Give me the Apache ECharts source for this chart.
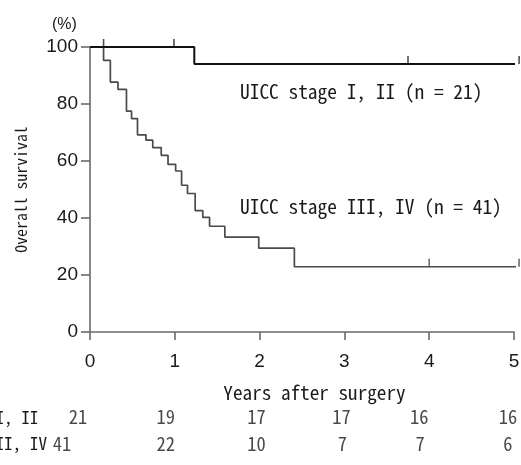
<!DOCTYPE html>
<html>
<head>
<meta charset="utf-8">
<script src="https://cdn.jsdelivr.net/npm/echarts@6/dist/echarts.min.js"></script>
<style>
html,body{margin:0;padding:0;background:#fff;}
#chart{width:521px;height:465px;}
</style>
</head>
<body>
<div id="chart"></div>
<script>
// ---- data ----
const yearTicks = [0, 1, 2, 3, 4, 5];
const riskEarly = [21, 19, 17, 17, 16, 16];
const riskLate = [41, 22, 10, 7, 7, 6];
const rowLabels = ['UICC stage I, II ', 'UICC stage III, IV'];

const earlyTimes = [0, 1.23, 5.06];
const earlySurv = [100, 94, 94];
const earlyCensorTimes = [0.16, 0.99, 3.75, 5.06];
const earlyCensorSurv = [100, 100, 94, 94];

const lateTimes = [0, 0.16, 0.24, 0.33, 0.43, 0.49, 0.56, 0.66, 0.74, 0.84, 0.92, 1.01, 1.08, 1.15, 1.24, 1.33, 1.41, 1.59, 1.99, 2.41, 5.06];
const lateSurv = [100, 95.3, 87.7, 85.1, 77.5, 74.9, 69.2, 67.3, 64.7, 62.0, 58.8, 56.5, 51.5, 48.6, 42.6, 40.2, 37.1, 33.3, 29.4, 22.9, 22.9];
const lateCensorTimes = [4.0, 5.06];
const lateCensorSurv = [22.9, 22.9];

const earlyLabel = 'UICC stage I, II (n = 21)';
const lateLabel = 'UICC stage III, IV (n = 41)';

// ---- layout (not data) ----
const riskLabelDx = [[-12, -9, -3, -3, -10, -6], [-28, -9, -3, -2, -9, -6]];
const SANS = "'Liberation Sans', Arial, sans-serif";

// pick a half-width monospace (CJK mono) if present, else DejaVu Sans Mono
function hasFont(name) {
  const c = document.createElement('canvas').getContext('2d');
  const s = 'UICC stage III 0123 mmmiii';
  c.font = '40px serif'; const a = c.measureText(s).width;
  c.font = "40px '" + name + "', serif"; const b = c.measureText(s).width;
  c.font = '40px sans-serif'; const a2 = c.measureText(s).width;
  c.font = "40px '" + name + "', sans-serif"; const b2 = c.measureText(s).width;
  return a !== b || a2 !== b2;
}
const cjkMono = hasFont('Noto Sans Mono CJK JP');
const MONO = cjkMono ? "'Noto Sans Mono CJK JP', 'DejaVu Sans Mono', monospace" : "'DejaVu Sans Mono', monospace";
const em = cjkMono ? 0.5 : 0.602;             // advance width per char, in em
const fsFor = (charW) => Math.round(charW / em * 10) / 10;
const annFs = fsFor(9.7);

const zip = (a, b) => a.map((v, i) => [v, b[i]]);
const riskData = [];
[riskEarly, riskLate].forEach((arr, r) => {
  arr.forEach((v, i) => {
    riskData.push({
      value: [yearTicks[i], r, v],
      label: { offset: [riskLabelDx[r][i], 0] }
    });
  });
});

const chart = echarts.init(document.getElementById('chart'), null, { renderer: 'canvas' });
chart.setOption({
  animation: false,
  backgroundColor: '#fff',
  grid: [
    { left: 90, right: 7, top: 47, bottom: 133, containLabel: false, outerBoundsMode: 'none' },
    { left: 90, right: 7, top: 404, height: 53, containLabel: false, outerBoundsMode: 'none' }
  ],
  xAxis: [
    {
      gridIndex: 0, type: 'value', min: 0, max: 5, interval: 1,
      axisLine: { lineStyle: { color: '#6a6a6a', width: 1.6 } },
      axisTick: { length: 8, lineStyle: { color: '#6a6a6a', width: 1.6 } },
      splitLine: { show: false },
      axisLabel: { color: '#1a1a1a', fontSize: 19, fontFamily: SANS, margin: 20 },
      name: 'Years after surgery', nameLocation: 'middle', nameGap: cjkMono ? 51 : 54,
      nameTextStyle: { color: '#1a1a1a', fontSize: fsFor(9.6), fontFamily: MONO, padding: [0, 0, 0, 25] }
    },
    {
      gridIndex: 1, type: 'value', min: 0, max: 5, interval: 1, show: false
    }
  ],
  yAxis: [
    {
      gridIndex: 0, type: 'value', min: 0, max: 100, interval: 20,
      axisLine: { show: true, lineStyle: { color: '#6a6a6a', width: 1.6 } },
      axisTick: { show: true, length: 9, lineStyle: { color: '#6a6a6a', width: 1.6 } },
      splitLine: { show: false },
      axisLabel: { color: '#1a1a1a', fontSize: 19, fontFamily: SANS, margin: 12 },
      name: 'Overall survival', nameLocation: 'middle', nameGap: cjkMono ? 61 : 62, nameRotate: 90,
      nameTextStyle: { color: '#1a1a1a', fontSize: fsFor(7.9), fontFamily: MONO }
    },
    {
      gridIndex: 1, type: 'category', data: rowLabels, inverse: true,
      axisLine: { show: false }, axisTick: { show: false },
      axisLabel: { color: '#1a1a1a', fontSize: fsFor(8.6), fontFamily: MONO, margin: 43, align: 'right' }
    }
  ],
  graphic: [
    { type: 'text', left: 52, top: 17, style: { text: '(%)', fontSize: 16, fontFamily: SANS, fill: '#1a1a1a' } },
    { type: 'text', left: 240, top: 93 - annFs / 2 - 1, style: { text: earlyLabel, fontSize: annFs, fontFamily: MONO, fill: '#1a1a1a' } },
    { type: 'text', left: 240, top: 208 - annFs / 2 - 1, style: { text: lateLabel, fontSize: annFs, fontFamily: MONO, fill: '#1a1a1a' } }
  ],
  series: [
    {
      type: 'line', xAxisIndex: 0, yAxisIndex: 0, step: 'end', symbol: 'none', clip: false,
      data: zip(lateTimes, lateSurv),
      lineStyle: { color: '#4a4a4a', width: 1.7 }
    },
    {
      type: 'line', xAxisIndex: 0, yAxisIndex: 0, step: 'end', symbol: 'none', clip: false,
      data: zip(earlyTimes, earlySurv),
      lineStyle: { color: '#111', width: 2 }
    },
    {
      type: 'scatter', xAxisIndex: 0, yAxisIndex: 0, clip: false,
      symbol: 'rect', symbolSize: [1.6, 8], symbolOffset: [0, -4],
      itemStyle: { color: '#222' },
      data: zip(earlyCensorTimes, earlyCensorSurv)
    },
    {
      type: 'scatter', xAxisIndex: 0, yAxisIndex: 0, clip: false,
      symbol: 'rect', symbolSize: [1.6, 8], symbolOffset: [0, -4],
      itemStyle: { color: '#4a4a4a' },
      data: zip(lateCensorTimes, lateCensorSurv)
    },
    {
      type: 'scatter', xAxisIndex: 1, yAxisIndex: 1, clip: false,
      symbolSize: 0, silent: true,
      label: {
        show: true, position: 'inside', color: '#1a1a1a', fontSize: 18.5, fontFamily: MONO,
        formatter: p => String(p.value[2])
      },
      data: riskData
    }
  ]
});
</script>
</body>
</html>
